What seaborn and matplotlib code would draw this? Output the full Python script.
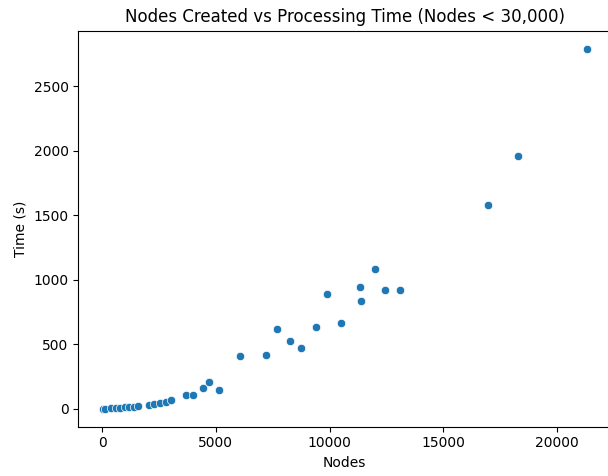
import matplotlib
matplotlib.use("Agg")
import matplotlib.pyplot as plt
import seaborn as sns
import pandas as pd

nodes = [20, 150, 380, 600, 800, 1000, 1200, 1400, 1600, 2050, 2300, 2550, 2800, 3050,
         3700, 4000, 4450, 4700, 5150, 6050, 7200, 7700, 8250, 8750, 9400, 9900, 10500,
         11350, 11400, 12000, 12450, 13100, 16950, 18300, 21300]
times = [2, 3, 5, 8, 10, 12, 15, 18, 20, 30, 38, 45, 52, 68,
         106, 106, 160, 208, 147, 412, 419, 618, 527, 471, 636, 893, 662,
         944, 834, 1083, 919, 919, 1583, 1961, 2790]

df = pd.DataFrame({"Nodes": nodes, "Time (s)": times})

fig, ax = plt.subplots(figsize=(6.08, 4.76), dpi=100)
sns.scatterplot(data=df, x="Nodes", y="Time (s)", ax=ax)
ax.set_title("Nodes Created vs Processing Time (Nodes < 30,000)")
fig.subplots_adjust(left=0.1288, right=1.0046, top=0.9355, bottom=0.1036)
fig.savefig("out.png", dpi=100)
